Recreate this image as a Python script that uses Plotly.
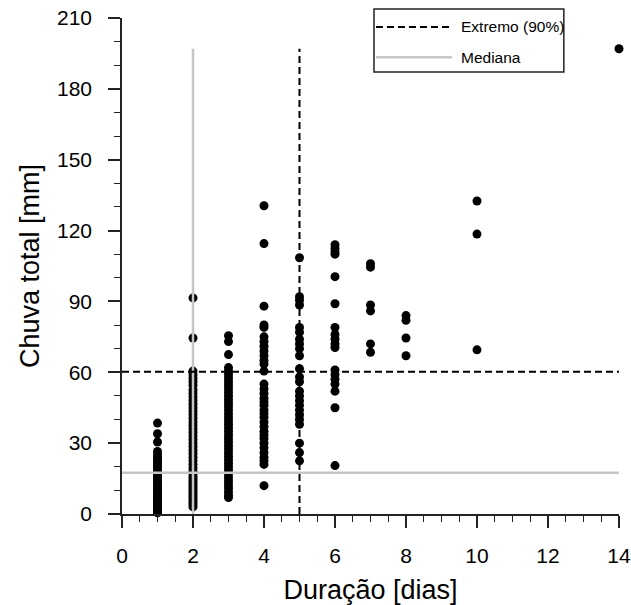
import plotly.graph_objects as go

# ---------------- data ----------------
dur_1 = [38.5, 34, 30.5, 26.5, 25, 24, 23, 22, 21, 20, 19, 18, 17, 16, 15, 14, 13, 12, 11, 10,
         9.5, 9, 8, 7, 6.5, 6, 5, 4.5, 4, 3.5, 3, 2.5, 2, 1.5, 1, 0.5]
dur_2 = [91.5, 74.5, 60.5, 59, 57.5, 56, 54.5, 52.5, 51, 49.5, 48, 46.5, 45, 43.5, 42, 40.5, 39,
         37.5, 36, 34.5, 33, 31.5, 30, 28.5, 27, 25.5, 24, 22.5, 21, 19.5, 18, 17, 16, 15, 14,
         13, 12, 11, 10, 9, 8, 7, 6, 5, 4, 3]
dur_3 = [75.5, 73, 67.5, 62, 60.5, 59, 57.5, 56, 54.5, 53, 51.5, 50, 48.5, 47, 45.5, 44, 42.5,
         41, 39.5, 38, 36.5, 35, 33.5, 32, 30.5, 29, 27.5, 26, 24.5, 23, 21.5, 20, 18.5, 17,
         15.5, 14, 12.5, 11, 9.5, 8, 7]
dur_4 = [130.5, 114.5, 88, 80, 79, 75, 73, 71, 69, 67, 65, 63.5, 60.5, 55, 53, 51, 49, 47.5,
         46, 44, 42.5, 41, 39, 37, 35, 33.5, 32, 30, 28, 26, 24, 22.5, 21, 12]
dur_5 = [108.5, 92, 90.5, 88.5, 79, 77, 74, 72, 70, 67, 61.5, 58, 56, 52, 50, 48, 46, 44, 42,
         40, 38, 30, 26, 22.5]
dur_6 = [114, 112.5, 111, 110, 100.5, 89, 79, 76, 74, 72, 70.5, 61, 59, 57, 55, 52, 45, 20.5]
dur_7 = [106, 104.5, 88.5, 86, 72, 68.5]
dur_8 = [84, 82, 74.5, 67]
dur_10 = [132.5, 118.5, 69.5]
dur_14 = [197]

groups = {1: dur_1, 2: dur_2, 3: dur_3, 4: dur_4, 5: dur_5, 6: dur_6,
          7: dur_7, 8: dur_8, 10: dur_10, 14: dur_14}

duration = []
rain = []
for d, vals in groups.items():
    duration += [d] * len(vals)
    rain += vals

median_duration = 2
p90_duration = 5
median_rain = 17.5
p90_rain = 60.2
max_rain = max(rain)
x_limits = [0, 14]
y_limits = [0, 210]

x_ticks = [0, 2, 4, 6, 8, 10, 12, 14]
y_ticks = [0, 30, 60, 90, 120, 150, 180, 210]

legend_labels = ["Extremo (90%)", "Mediana"]

FONT = "Liberation Sans, Arial, Helvetica, sans-serif"
GREY = "#c6c6c6"
DASH = "7px,4px"

fig = go.Figure()

fig.add_trace(go.Scatter(
    x=duration, y=rain, mode="markers",
    marker=dict(color="black", size=9, line=dict(width=0)),
    cliponaxis=False, showlegend=False, name="eventos"))

# reference lines (drawn on top of markers)
fig.add_trace(go.Scatter(x=[median_duration, median_duration], y=[0, max_rain], mode="lines",
                         line=dict(color=GREY, width=2.5), showlegend=False, name=legend_labels[1]))
fig.add_trace(go.Scatter(x=x_limits, y=[median_rain, median_rain], mode="lines",
                         line=dict(color=GREY, width=2.5), showlegend=False, name=legend_labels[1]))
fig.add_trace(go.Scatter(x=[p90_duration, p90_duration], y=[0, max_rain], mode="lines",
                         line=dict(color="black", width=2, dash=DASH), showlegend=False,
                         name=legend_labels[0]))
fig.add_trace(go.Scatter(x=x_limits, y=[p90_rain, p90_rain], mode="lines",
                         line=dict(color="black", width=2, dash=DASH), showlegend=False,
                         name=legend_labels[0]))

# manual legend box (paper coordinates)
lx0, lx1, ly0, ly1 = 0.507, 0.889, 0.891, 1.018
fig.add_shape(type="rect", xref="paper", yref="paper", x0=lx0, x1=lx1, y0=ly0, y1=ly1,
              line=dict(color="#222", width=1.5), fillcolor="white", layer="above")
rows = [(0.982, dict(color="black", width=2, dash=DASH)),
        (0.921, dict(color=GREY, width=2.5))]
for (yy, ln), lab in zip(rows, legend_labels):
    fig.add_shape(type="line", xref="paper", yref="paper", x0=0.511, x1=0.664, y0=yy, y1=yy,
                  line=ln, layer="above")
    fig.add_annotation(xref="paper", yref="paper", x=0.678, y=yy, text=lab, showarrow=False,
                       xanchor="left", yanchor="middle", font=dict(family=FONT, size=15.5, color="black"))

axis_common = dict(
    showline=True, linecolor="#222", linewidth=1.5, mirror=False,
    showgrid=False, zeroline=False, automargin=False,
    ticks="outside", ticklen=12, tickwidth=1.5, tickcolor="#222",
    tickfont=dict(family=FONT, size=21, color="black"),
)

fig.update_xaxes(
    **axis_common, range=x_limits, tickvals=x_ticks, ticktext=[str(v) for v in x_ticks],
    minor=dict(ticks="outside", ticklen=6, tickwidth=1.2, tickcolor="#222", dtick=0.5),
    title=dict(text="Duração [dias]", font=dict(family=FONT, size=27, color="black"), standoff=14),
    ticklabelstandoff=10,
)
fig.update_yaxes(
    **axis_common, range=y_limits, tickvals=y_ticks, ticktext=[str(v) for v in y_ticks],
    minor=dict(ticks="outside", ticklen=6, tickwidth=1.2, tickcolor="#222", dtick=10),
    title=dict(text="Chuva total [mm]", font=dict(family=FONT, size=27, color="black"), standoff=10),
    ticklabelstandoff=12,
)

fig.update_layout(
    width=631, height=605,
    margin=dict(l=122, r=12, t=18, b=91),
    plot_bgcolor="white", paper_bgcolor="white",
    showlegend=False,
)

# remove the browser's default 8px body margin so the figure fills the window exactly
fig.write_html("out.html", config={"displayModeBar": False},
               post_script="document.body.style.margin='0';")
